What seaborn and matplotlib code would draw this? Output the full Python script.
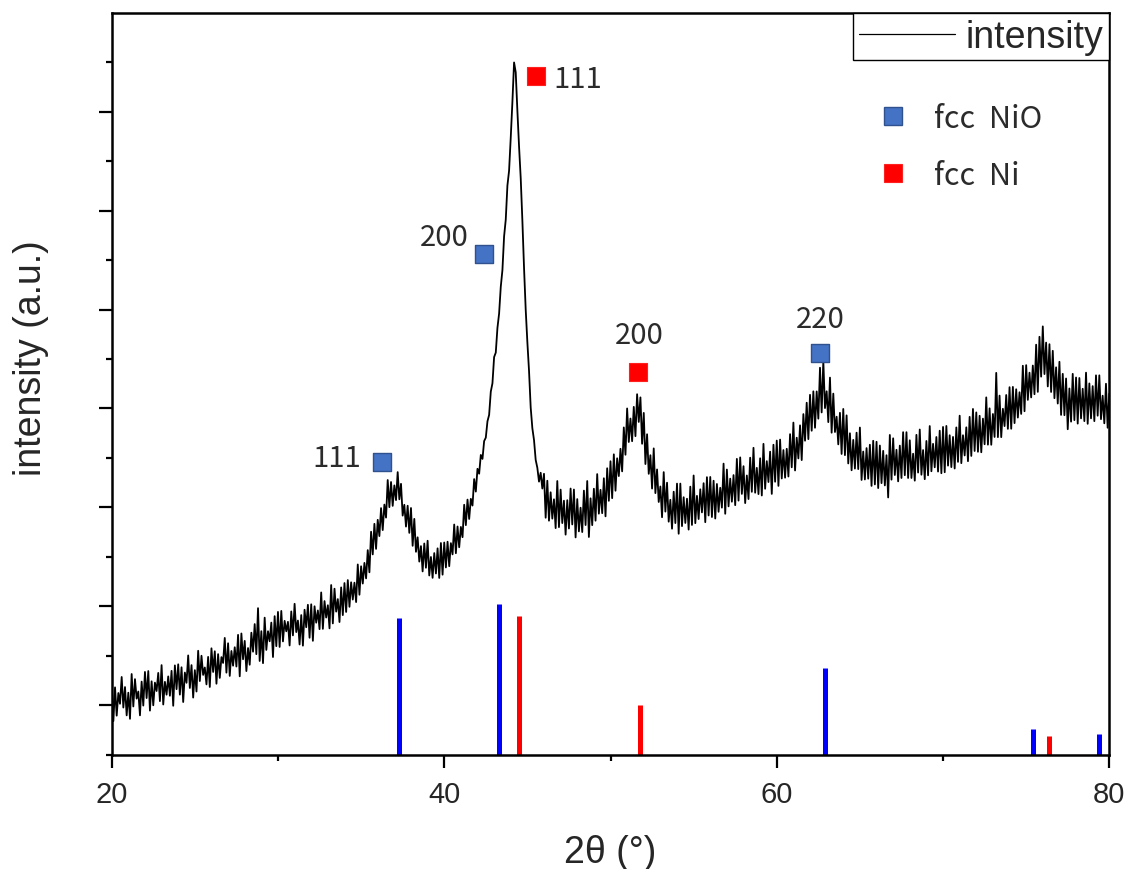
import numpy as np
import pandas as pd
import matplotlib
matplotlib.use("Agg")
import matplotlib.pyplot as plt
from matplotlib.lines import Line2D
from matplotlib.ticker import MultipleLocator
import seaborn as sns

# -------------------------
# DATA
# -------------------------
# scan points on the even 0.2 deg grid: 20.0, 20.2, ... 80.0
theta_even = np.round(np.arange(20.0, 80.01, 0.2), 1)
counts_even = [
    714, 679, 622, 784, 682, 625, 814, 762, 637, 737,
    835, 844, 740, 727, 825, 904, 735, 790, 846, 901,
    912, 882, 829, 1002, 904, 853, 1049, 999, 880, 987,
    1074, 1044, 1015, 985, 1179, 1125, 1047, 1085, 1210, 1224,
    1149, 1077, 1232, 1319, 1480, 1247, 1384, 1247, 1334, 1399,
    1442, 1452, 1352, 1342, 1447, 1524, 1355, 1410, 1464, 1514,
    1519, 1499, 1457, 1639, 1552, 1510, 1714, 1677, 1572, 1690,
    1734, 1764, 1742, 1738, 1922, 1904, 1938, 2067, 2253, 2333,
    2374, 2492, 2528, 2776, 2756, 2722, 2856, 2738, 2526, 2516,
    2493, 2383, 2197, 2108, 2134, 2162, 1998, 2037, 2085, 2139,
    2144, 2152, 2138, 2326, 2306, 2302, 2526, 2578, 2586, 2786,
    2890, 3030, 3170, 3370, 3670, 4020, 4315, 4730, 5240, 5755,
    6240, 7000, 6510, 5830, 4920, 4170, 3510, 3180, 2900, 2850,
    2839, 2769, 2652, 2581, 2766, 2679, 2567, 2572, 2690, 2680,
    2583, 2496, 2669, 2766, 2591, 2688, 2836, 2677, 2794, 2895,
    2966, 3036, 2996, 3092, 3308, 3500, 3398, 3516, 3644, 3612,
    3455, 3239, 3027, 3096, 2883, 2711, 2856, 2749, 2576, 2658,
    2740, 2740, 2602, 2587, 2709, 2822, 2616, 2682, 2744, 2805,
    2807, 2769, 2736, 2698, 2942, 2882, 2790, 2826, 2990, 3005,
    2916, 2822, 3002, 3102, 2899, 2996, 3142, 2967, 3063, 3133,
    3175, 3185, 3079, 3092, 3240, 3357, 3204, 3329, 3443, 3558,
    3638, 3673, 3672, 3912, 3980, 3674, 3812, 3650, 3417, 3456,
    3495, 3430, 3249, 3182, 3255, 3307, 3064, 3099, 3133, 3173,
    3163, 3125, 3071, 3027, 3232, 3198, 3082, 3124, 3260, 3260,
    3178, 3042, 3233, 3287, 3079, 3171, 3322, 3142, 3211, 3275,
    3313, 3323, 3229, 3212, 3308, 3427, 3229, 3309, 3415, 3495,
    3460, 3426, 3397, 3612, 3501, 3444, 3860, 3630, 3497, 3636,
    3715, 3718, 3694, 3664, 3932, 3938, 3862, 3934, 4145, 4225,
    4330, 4166, 4150, 4083, 3916, 3972, 3850, 3803, 3702, 3850,
    3813, 3808, 3699, 3862, 3753, 3726, 3835, 3835, 3629, 3750,
    3650,
]
# scan points on the odd grid: 20.1, 20.3, ... 79.9
theta_odd = np.round(np.arange(20.1, 79.95, 0.2), 1)
counts_odd = [
    338, 393, 513, 475, 396, 361, 486, 565, 396, 495,
    571, 444, 498, 642, 540, 506, 605, 594, 493, 661,
    606, 531, 725, 673, 576, 637, 743, 805, 709, 683,
    835, 716, 775, 926, 828, 795, 898, 890, 791, 963,
    844, 908, 1040, 1015, 946, 924, 1058, 1145, 986, 1096,
    1088, 1144, 1246, 1103, 1205, 1238, 1113, 1101, 1287, 1181,
    1150, 1333, 1268, 1271, 1385, 1276, 1326, 1445, 1340, 1410,
    1442, 1494, 1567, 1542, 1616, 1729, 1781, 1843, 2024, 2080,
    2209, 2270, 2396, 2502, 2515, 2573, 2581, 2416, 2305, 2242,
    2111, 2050, 1951, 1852, 1889, 1811, 1787, 1831, 1786, 1819,
    1892, 1905, 2024, 2036, 2096, 2198, 2320, 2382, 2518, 2659,
    2840, 2990, 3205, 3435, 3755, 4065, 4460, 4900, 5410, 5905,
    6600, 6900, 6150, 5400, 4500, 3880, 3300, 2980, 2760, 2690,
    2395, 2365, 2386, 2290, 2300, 2341, 2224, 2286, 2327, 2196,
    2257, 2250, 2321, 2200, 2320, 2365, 2436, 2441, 2409, 2566,
    2593, 2668, 2816, 2864, 3032, 3161, 3169, 3220, 3364, 3143,
    2938, 2839, 2690, 2644, 2554, 2400, 2457, 2355, 2284, 2341,
    2233, 2310, 2342, 2275, 2322, 2340, 2382, 2449, 2350, 2418,
    2402, 2387, 2455, 2497, 2435, 2510, 2557, 2522, 2568, 2636,
    2543, 2584, 2657, 2648, 2634, 2620, 2688, 2756, 2636, 2759,
    2717, 2792, 2800, 2812, 2905, 2873, 2995, 2978, 3174, 3190,
    3275, 3305, 3397, 3460, 3504, 3362, 3255, 3262, 3137, 3040,
    3028, 2944, 2875, 2892, 2887, 2777, 2782, 2790, 2717, 2732,
    2695, 2745, 2722, 2600, 2780, 2827, 2763, 2797, 2825, 2797,
    2797, 2770, 2852, 2830, 2785, 2824, 2865, 2905, 2862, 2845,
    2855, 2922, 2907, 2893, 2960, 2947, 3025, 2967, 3020, 3070,
    3062, 3057, 3138, 3134, 3133, 3212, 3210, 3210, 3322, 3294,
    3295, 3352, 3408, 3445, 3472, 3587, 3612, 3644, 3668, 3822,
    3848, 3723, 3667, 3604, 3550, 3435, 3432, 3290, 3367, 3382,
    3347, 3400, 3372, 3345, 3400, 3372, 3427, 3392, 3350, 3305,
]

# reference stick patterns
nio_ref_pos = [37.3, 43.3, 62.9, 75.4, 79.4]
nio_ref_int = [1380, 1520, 870, 260, 210]
ni_ref_pos = [44.5, 51.8, 76.4]
ni_ref_int = [1400, 500, 190]

# peak markers + hkl labels
nio_mark_x = [36.24, 42.37, 62.6]
nio_mark_y = [2960, 5060, 4060]
nio_hkl = ["111", "200", "220"]
ni_mark_x = [45.54, 51.63]
ni_mark_y = [6860, 3870]
ni_hkl = ["111", "200"]

# -------------------------
# STYLE
# -------------------------
NIO_FILL, NIO_EDGE = "#4472C4", "#2F528F"
NI_FILL, NI_EDGE = "#FF0000", "#FF2020"
STICK_BLUE, STICK_RED = "#0000FF", "#FF0000"
LABEL_FONT = ["Noto Sans CJK SC", "DejaVu Sans"]
TEXT_GREY = "#2b2b2b"

sns.set_style("ticks")
plt.rcParams["font.family"] = ["Liberation Sans", "DejaVu Sans"]

fig = plt.figure(figsize=(11.27, 8.7), dpi=100)
ax = fig.add_axes([111.7 / 1127, (870 - 755.5) / 870, 997.6 / 1127, 741.5 / 870])

# merge both halves of the scan into one pattern
df = pd.concat([
    pd.DataFrame({"two_theta": theta_even, "intensity": counts_even}),
    pd.DataFrame({"two_theta": theta_odd, "intensity": counts_odd}),
]).sort_values("two_theta").reset_index(drop=True)

sns.lineplot(data=df, x="two_theta", y="intensity", color="black", lw=1.3,
             estimator=None, sort=False, label="intensity", ax=ax, zorder=3)

# stick patterns from the bottom axis
ax.vlines(nio_ref_pos, 0, nio_ref_int, colors=STICK_BLUE, lw=3.6, zorder=2)
ax.vlines(ni_ref_pos, 0, ni_ref_int, colors=STICK_RED, lw=3.6, zorder=2)

# phase markers
sns.scatterplot(x=nio_mark_x, y=nio_mark_y, marker="s", s=185, color=NIO_FILL,
                edgecolor=NIO_EDGE, linewidth=1.0, ax=ax, zorder=4, legend=False)
sns.scatterplot(x=ni_mark_x, y=ni_mark_y, marker="s", s=185, color=NI_FILL,
                edgecolor=NI_EDGE, linewidth=0.8, ax=ax, zorder=4, legend=False)

# hkl labels (offsets in points from each marker)
nio_offsets = [(-15, 3, "right", "center"), (-11, 12.5, "right", "center"), (0, 14, "center", "bottom")]
ni_offsets = [(12, -2, "left", "center"), (1.5, 16, "center", "bottom")]
for xs, ys, labs, offs in [(nio_mark_x, nio_mark_y, nio_hkl, nio_offsets),
                           (ni_mark_x, ni_mark_y, ni_hkl, ni_offsets)]:
    for x, y, lab, (dx, dy, ha, va) in zip(xs, ys, labs, offs):
        ax.annotate(lab, (x, y), xytext=(dx, dy), textcoords="offset points",
                    ha=ha, va=va, fontsize=21, color=TEXT_GREY, family=LABEL_FONT)

# axes
ax.set_xlim(20, 80)
ax.set_ylim(0, 7500)
ax.xaxis.set_major_locator(MultipleLocator(20))
ax.xaxis.set_minor_locator(MultipleLocator(10))
ax.set_yticks(np.arange(500, 7000, 1000))
ax.set_yticks(np.arange(0, 7500, 1000), minor=True)
ax.tick_params(which="major", direction="out", length=9.3, width=1.6, color="black",
               labelsize=21, pad=9, labelleft=False)
ax.tick_params(which="minor", direction="out", length=4.2, width=1.6, color="black")
for sp in ax.spines.values():
    sp.set_visible(True)
    sp.set_linewidth(1.8)
    sp.set_color("black")

ax.set_xlabel("2θ (°)", fontsize=27)
ax.set_ylabel("intensity (a.u.)", fontsize=27)
ax.xaxis.set_label_coords(0.5, -0.107)
ax.yaxis.set_label_coords(-0.063, 0.536)

# legends
leg1 = ax.legend(loc="upper right", bbox_to_anchor=(1, 1), borderaxespad=0,
                 fontsize=27, handlelength=2.55, handletextpad=0.3, borderpad=0.15,
                 fancybox=False, framealpha=1, edgecolor="black")
leg1.get_frame().set_linewidth(1.0)
for line in leg1.get_lines():
    line.set_linewidth(0.9)

phase_handles = [
    Line2D([], [], ls="", marker="s", ms=13.6, mfc=NIO_FILL, mec=NIO_EDGE, mew=1.0),
    Line2D([], [], ls="", marker="s", ms=13.6, mfc=NI_FILL, mec=NI_EDGE, mew=0.8),
]
leg2 = ax.legend(phase_handles, ["fcc  NiO", "fcc  Ni"], loc="upper left",
                 bbox_to_anchor=(0.7677, 0.8786), borderaxespad=0, borderpad=0,
                 frameon=False, handlelength=1.0, handletextpad=0.85, labelspacing=0.85,
                 prop={"family": LABEL_FONT, "size": 22}, labelcolor=TEXT_GREY)
ax.add_artist(leg1)

fig.savefig("out.png", dpi=100)
